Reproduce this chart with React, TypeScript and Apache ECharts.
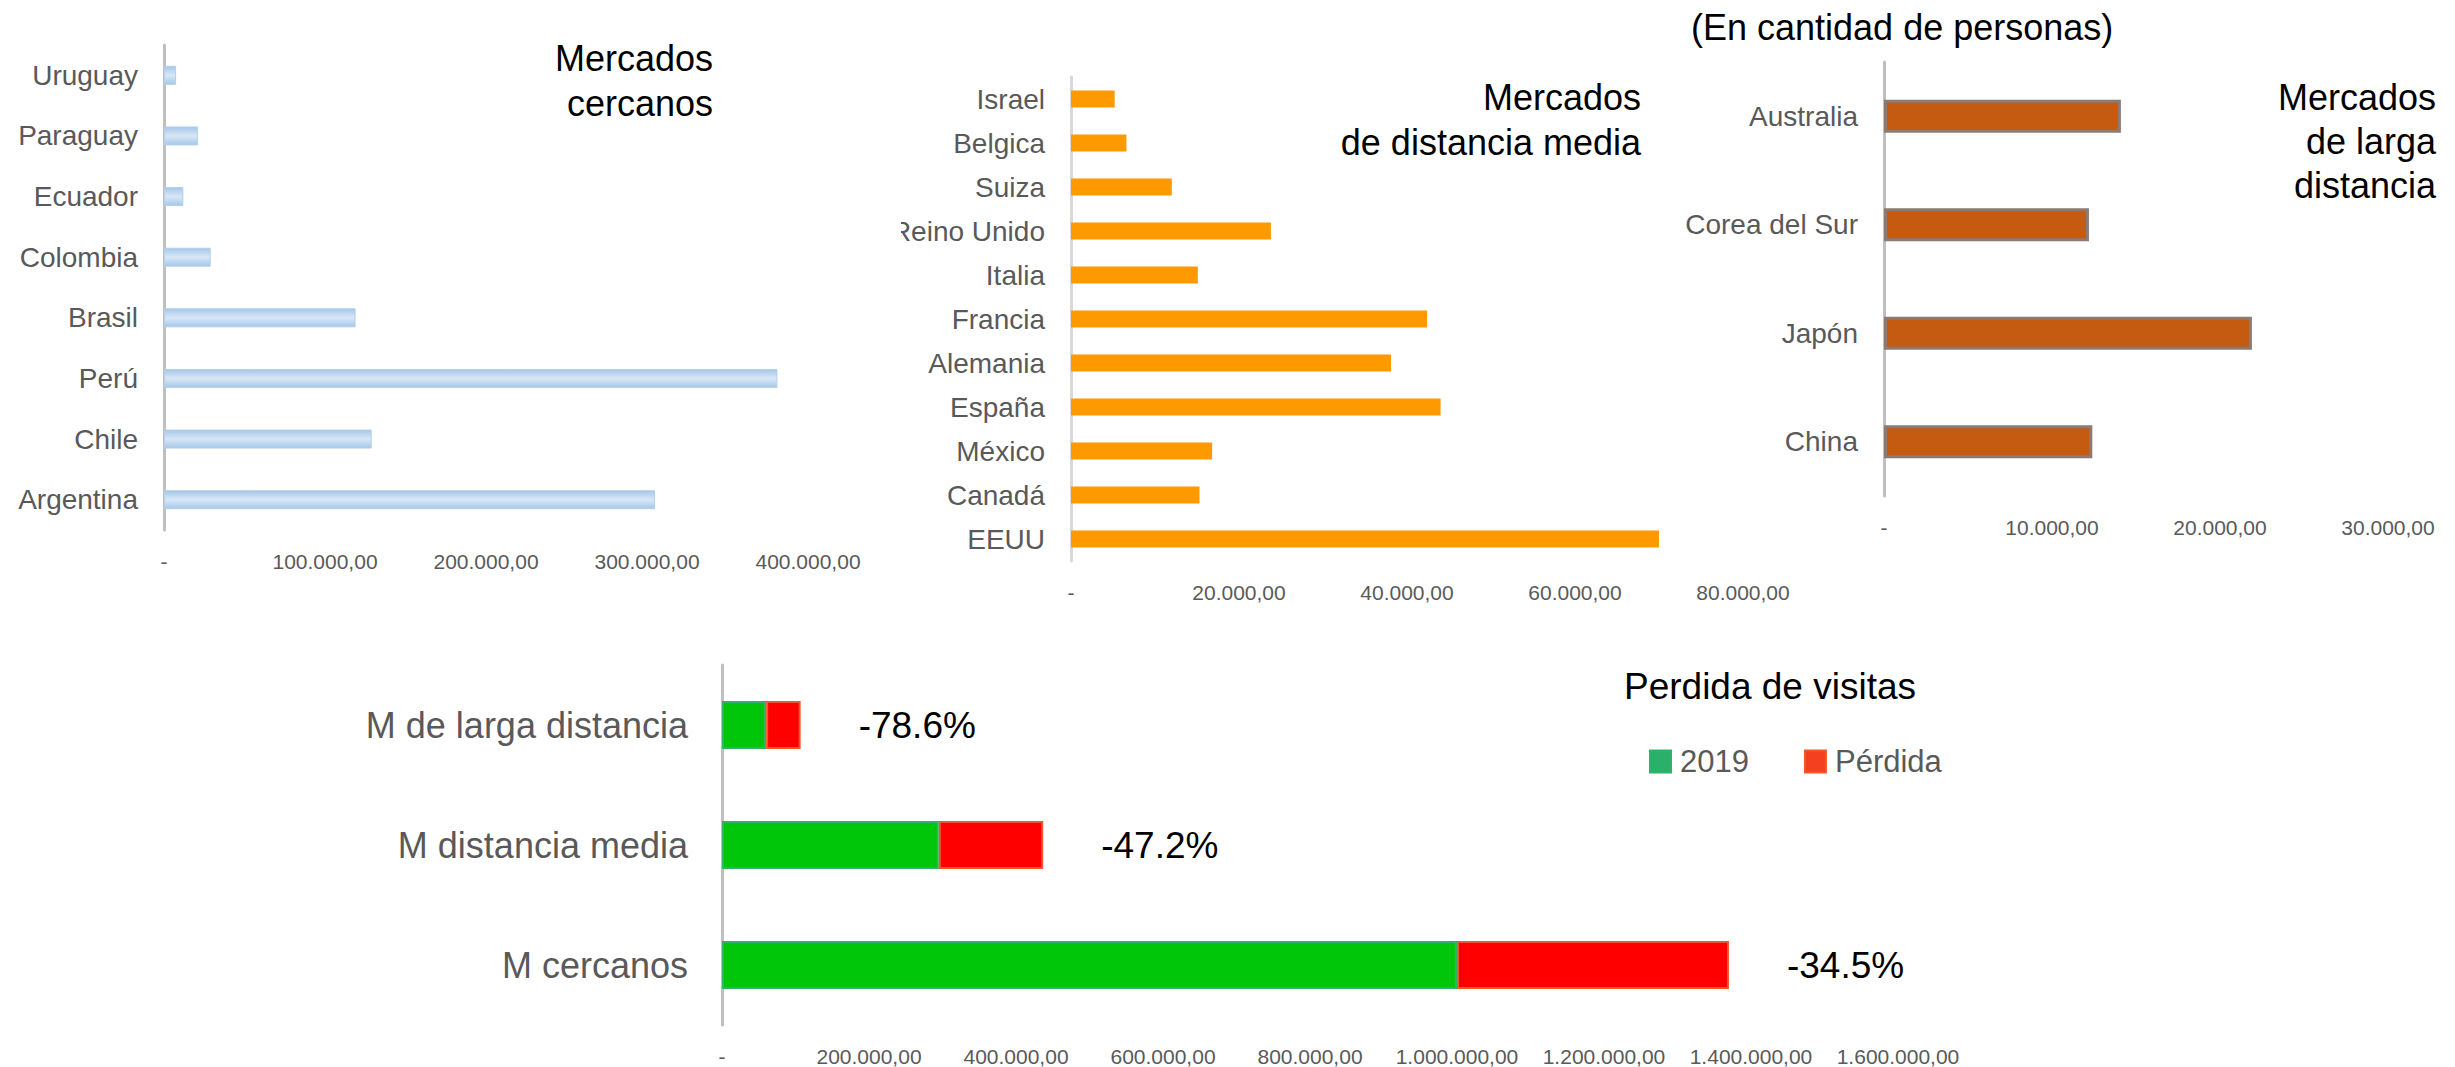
import React, { useEffect, useRef } from "react";
import * as echarts from "echarts";

// ---- Data ----
const cercanosCats = ["Argentina", "Chile", "Perú", "Brasil", "Colombia", "Ecuador", "Paraguay", "Uruguay"];
const cercanosVals = [305000, 129000, 381000, 119000, 29000, 12000, 21000, 7500];

const mediaCats = ["EEUU", "Canadá", "México", "España", "Alemania", "Francia", "Italia", "Reino Unido", "Suiza", "Belgica", "Israel"];
const mediaVals = [70000, 15300, 16800, 44000, 38100, 42400, 15100, 23800, 12000, 6600, 5200];

const largaCats = ["China", "Japón", "Corea del Sur", "Australia"];
const largaVals = [12400, 21900, 12200, 14100];

const perdidaCats = ["M cercanos", "M distancia media", "M de larga distancia"];
const visitas2019 = [1000000, 295000, 60000];
const perdidaVals = [370000, 142000, 47000];
const perdidaPct = ["-34.5%", "-47.2%", "-78.6%"];

const axisMax = [400000, 80000, 30000, 1600000];
const axisStep = [100000, 20000, 10000, 200000];

const FONT = "'Liberation Sans', Arial, Helvetica, sans-serif";
const GRAY = "#595959";

function fmt(v: number): string {
  if (v === 0) return "-";
  return Math.round(v).toString().replace(/\B(?=(\d{3})+(?!\d))/g, ".") + ",00";
}

function xAxisFor(idx: number) {
  return {
    type: "value",
    gridIndex: idx,
    min: 0,
    max: axisMax[idx],
    interval: axisStep[idx],
    axisLine: { show: false },
    axisTick: { show: false },
    splitLine: { show: false },
    axisLabel: { formatter: fmt, fontSize: 21, color: GRAY, fontFamily: FONT, margin: 21 },
  };
}

function yAxisFor(idx: number, cats: string[], fontSize: number, lineColor: string, margin: number) {
  return {
    type: "category",
    gridIndex: idx,
    data: cats,
    axisLine: { show: true, lineStyle: { color: lineColor, width: 3 } },
    axisTick: { show: false },
    splitLine: { show: false },
    axisLabel: { fontSize, color: GRAY, fontFamily: FONT, margin },
  };
}

export default function App() {
  const ref = useRef<HTMLDivElement>(null);

  useEffect(() => {
    document.body.style.margin = "0";
    if (!ref.current) return;
    const chart = echarts.init(ref.current, undefined, { renderer: "svg" });

    const blueGrad = new echarts.graphic.LinearGradient(0, 0, 0, 1, [
      { offset: 0, color: "#a6c7e9" },
      { offset: 0.5, color: "#d8e7f6" },
      { offset: 1, color: "#a6c7e9" },
    ]);

    const titleStyle = (text: string, align: string) => ({
      text,
      font: `36px ${FONT}`,
      fill: "#000",
      textAlign: align,
      textVerticalAlign: "top",
      lineHeight: 45,
    });

    chart.setOption({
      animation: false,
      backgroundColor: "#ffffff",
      grid: [
        { left: 164, top: 45, width: 644, height: 485 },
        { left: 1071, top: 77, width: 672, height: 484 },
        { left: 1884, top: 62, width: 504, height: 434 },
        { left: 722, top: 665, width: 1176, height: 360 },
      ],
      xAxis: [xAxisFor(0), xAxisFor(1), xAxisFor(2), xAxisFor(3)],
      yAxis: [
        yAxisFor(0, cercanosCats, 28, "#bfbfbf", 26),
        yAxisFor(1, mediaCats, 28, "#d9d9d9", 26),
        yAxisFor(2, largaCats, 28, "#bfbfbf", 26),
        yAxisFor(3, perdidaCats, 36, "#bfbfbf", 34),
      ],
      legend: {
        data: [
          { name: "2019", itemStyle: { color: "#2bb06a" } },
          { name: "Pérdida", itemStyle: { color: "#f4401e" } },
        ],
        left: 1644,
        top: 741,
        itemWidth: 21,
        itemHeight: 22,
        itemGap: 55,
        icon: "rect",
        textStyle: { fontSize: 31, color: GRAY, fontFamily: FONT, padding: [0, 0, 0, 4] },
      },
      series: [
        {
          type: "bar",
          name: "cercanos",
          xAxisIndex: 0,
          yAxisIndex: 0,
          data: cercanosVals,
          barWidth: 19,
          itemStyle: { color: blueGrad, borderColor: "#b4cfec", borderWidth: 1 },
        },
        {
          type: "bar",
          name: "media",
          xAxisIndex: 1,
          yAxisIndex: 1,
          data: mediaVals,
          barWidth: 17,
          itemStyle: { color: "#ff9900" },
        },
        {
          type: "bar",
          name: "larga",
          xAxisIndex: 2,
          yAxisIndex: 2,
          data: largaVals,
          barWidth: 33,
          itemStyle: { color: "#c55a11", borderColor: "#8d7a72", borderWidth: 3 },
        },
        {
          type: "bar",
          name: "2019",
          xAxisIndex: 3,
          yAxisIndex: 3,
          stack: "total",
          data: visitas2019,
          barWidth: 48,
          itemStyle: { color: "#00c60a", borderColor: "#2fb36b", borderWidth: 2 },
        },
        {
          type: "bar",
          name: "Pérdida",
          xAxisIndex: 3,
          yAxisIndex: 3,
          stack: "total",
          data: perdidaVals,
          barWidth: 48,
          itemStyle: { color: "#ff0000", borderColor: "#f4552a", borderWidth: 2 },
          label: {
            show: true,
            position: "right",
            distance: 58,
            fontSize: 37,
            color: "#000",
            fontFamily: FONT,
            formatter: (p: any) => perdidaPct[p.dataIndex],
          },
        },
      ],
      graphic: [
        { type: "text", x: 713, y: 36, style: titleStyle("Mercados\ncercanos", "right") },
        { type: "text", x: 1641, y: 75, style: titleStyle("Mercados\nde distancia media", "right") },
        { type: "text", x: 1691, y: 5, style: titleStyle("(En cantidad de personas)", "left") },
        { type: "text", x: 2436, y: 75, style: { ...titleStyle("Mercados\nde larga\ndistancia", "right"), lineHeight: 44 } },
        { type: "text", x: 1770, y: 664, style: { ...titleStyle("Perdida de visitas", "center"), font: `37px ${FONT}` } },
        { type: "rect", z: 100, shape: { x: 875, y: 210, width: 26, height: 42 }, style: { fill: "#ffffff" } },
      ],
    });

    return () => chart.dispose();
  }, []);

  return <div ref={ref} style={{ width: 2455, height: 1067 }} />;
}
